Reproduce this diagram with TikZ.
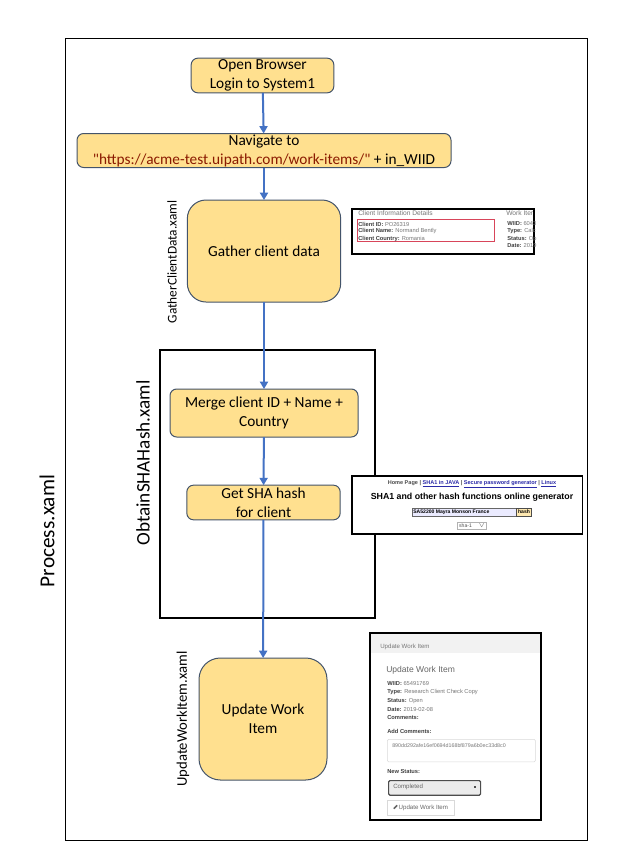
\documentclass[tikz,border=0pt]{standalone}
\usepackage{fontspec}
\setmainfont{Carlito}
\newfontfamily\shotfont{Liberation Sans}
\newfontfamily\urlfont{Carlito}
\usetikzlibrary{arrows.meta,positioning}
\definecolor{pxfill}{HTML}{FFE08F}
\definecolor{pxedge}{HTML}{44546A}
\definecolor{pxblue}{HTML}{4472C4}
\definecolor{pxurl}{HTML}{8B1A00}
\definecolor{pxred}{HTML}{D8455A}
\definecolor{pxgrey}{HTML}{777777}
\definecolor{pxlink}{HTML}{2A2AA8}
\tikzset{
  px step/.style={draw=pxedge, line width=0.75pt, fill=pxfill, align=center, inner sep=0pt,
    outer sep=0pt, font=\fontsize{11.5pt}{14.3pt}\selectfont, text=black},
  px arrow/.style={-{Triangle[length=5.5pt,width=6pt]}, line width=1.5pt, draw=pxblue},
  px frame/.style={draw=black, line width=0.8pt, fill=white, inner sep=0pt, outer sep=0pt, anchor=north west},
  px file/.style={rotate=90, inner sep=0pt, font=\fontsize{11pt}{13pt}\selectfont},
  px shot/.style={font=\shotfont\fontsize{4.3pt}{5.2pt}\selectfont, text=pxgrey, inner sep=0pt, anchor=west},
  px shotb/.style={px shot, text=black!75}
}
\begin{document}
\begin{tikzpicture}[x=0.75pt, y=-0.75pt]
  \useasboundingbox (0,0) rectangle (619,864);

  % frames
  \node[px frame, line width=0.75pt, minimum width=392pt, minimum height=601.5pt] (outer) at (65,38) {};
  \node[px frame, line width=1.5pt, minimum width=161pt, minimum height=201pt] (inner) at (160,350) {};

  % steps
  \node[px step, rounded corners=5pt, minimum width=107pt, minimum height=26pt] (open) at (262.5,75.5) {Open Browser\\Login to System1};
  \node[px step, rounded corners=5pt, minimum width=280.5pt, minimum height=25.5pt] (nav) at (264,150.5) {Navigate to\\\textcolor{pxurl}{\urlfont"https://acme-test.uipath.com/work-items/"} + in\_WIID};
  \node[px step, rounded corners=14pt, minimum width=115pt, minimum height=76.5pt] (gather) at (264,251) {Gather client data};
  \node[px step, rounded corners=5pt, minimum width=141pt, minimum height=36pt] (merge) at (264,413) {Merge client ID + Name +\\Country};
  \node[px step, rounded corners=5pt, minimum width=115pt, minimum height=26pt] (hash) at (263.5,502.5) {Get SHA hash\\for client};
  \node[px step, rounded corners=16pt, minimum width=96pt, minimum height=91.5pt] (update) at (263,719) {Update Work\\Item};

  \draw[px arrow] (open) -- (nav);
  \draw[px arrow] (nav) -- (gather);
  \draw[px arrow] (gather) -- (merge);
  \draw[px arrow] (merge) -- (hash);
  \draw[px arrow] (hash) -- (update);

  % file names
  \node[px file, font=\fontsize{16pt}{18pt}\selectfont] (process) at (47,531) {Process.xaml};
  \node[px file, font=\fontsize{10pt}{12pt}\selectfont] (gatherfile) at (172,262) {GatherClientData.xaml};
  \node[px file, font=\fontsize{14.4pt}{16pt}\selectfont] (hashfile) at (143,463) {ObtainSHAHash.xaml};
  \node[px file] (updatefile) at (183,719) {UpdateWorkItem.xaml};

  % client screenshot
  \node[px frame, minimum width=136.5pt, minimum height=33.75pt] (shotA) at (352,209) {};
  \node[px shot, font=\shotfont\fontsize{5pt}{6pt}\selectfont] (clienthead) at (358,213) {Client Information Details};
  \node[px shot, font=\shotfont\fontsize{5pt}{6pt}\selectfont] (workhead) at (506,213) {Work Iter};
  \node[draw=pxred, line width=0.75pt, minimum width=103pt, minimum height=17pt, inner sep=0pt, outer sep=0pt, anchor=north west] (redbox) at (357,219) {};
  \node[px shot] (cid) at (358,224) {\textcolor{black!75}{\textbf{Client ID:}} PO26319};
  \node[px shot] (cname) at (358,231.5) {\textcolor{black!75}{\textbf{Client Name:}} Normand Bently};
  \node[px shot] (ccountry) at (358,239) {\textcolor{black!75}{\textbf{Client Country:}} Romania};
  \node[px shot] (wiid) at (507,224) {\textcolor{black!75}{\textbf{WIID:}} 6043};
  \node[px shot] (wtype) at (507,231.5) {\textcolor{black!75}{\textbf{Type:}} Calc};
  \node[px shot] (wstatus) at (507,239) {\textcolor{black!75}{\textbf{Status:}} Op};
  \node[px shot] (wdate) at (507,246) {\textcolor{black!75}{\textbf{Date:}} 2019};

  % hash screenshot
  \node[px frame, minimum width=173pt, minimum height=43.5pt] (shotB) at (352,476) {};
  \node[font=\shotfont\bfseries\fontsize{4.15pt}{5pt}\selectfont, inner sep=0pt, text=black!70] (links) at (472,484.5) {Home Page | \textcolor{pxlink}{\underline{SHA1 in JAVA}} | \textcolor{pxlink}{\underline{Secure password generator}} | \textcolor{pxlink}{\underline{Linux}}};
  \node[font=\shotfont\bfseries\fontsize{6.6pt}{8pt}\selectfont, inner sep=0pt] (shatitle) at (472,497) {SHA1 and other hash functions online generator};
  \node[draw=black!60, fill=blue!8, line width=0.4pt, minimum width=78pt, minimum height=6pt, inner sep=0pt, outer sep=0pt, anchor=west, font=\shotfont\bfseries\fontsize{3.8pt}{4pt}\selectfont, text depth=0pt] (shainput) at (412,512) {\rlap{\hspace{-38pt}SA52200 Mayra Monson France}};
  \node[draw=black!70, fill=pxfill!70, line width=0.4pt, minimum width=11pt, minimum height=6pt, inner sep=0pt, outer sep=0pt, right=0.5pt of shainput, font=\shotfont\bfseries\fontsize{3.8pt}{4pt}\selectfont] (shabtn) {hash};
  \node[draw=black!30, line width=0.4pt, minimum width=22pt, minimum height=5.5pt, inner sep=0pt, font=\shotfont\fontsize{3.8pt}{4pt}\selectfont, text=black!70] (shaselect) at (472,526) {sha-1\hspace{5pt}$\scriptscriptstyle\vee$};

  % update screenshot
  \node[px frame, minimum width=128.25pt, minimum height=140.25pt] (shotC) at (370,633) {};
  \node[fill=black!5, minimum width=127pt, minimum height=14pt, inner sep=0pt, outer sep=0pt, anchor=north west] (shotCbar) at (371,634) {};
  \node[px shot, font=\shotfont\fontsize{4.6pt}{5pt}\selectfont] (barlabel) at (380,647) {Update Work Item};
  \node[px shot, font=\shotfont\fontsize{6.4pt}{7pt}\selectfont, text=black!60] (cardtitle) at (386,670) {Update Work Item};
  \node[px shot] (uwiid) at (387,684) {\textcolor{black!75}{\textbf{WIID:}} 65491769};
  \node[px shot] (utype) at (387,692.5) {\textcolor{black!75}{\textbf{Type:}} Research Client Check Copy};
  \node[px shot] (ustatus) at (387,701) {\textcolor{black!75}{\textbf{Status:}} Open};
  \node[px shot] (udate) at (387,709.5) {\textcolor{black!75}{\textbf{Date:}} 2019-02-08};
  \node[px shotb, font=\shotfont\bfseries\fontsize{4.3pt}{5pt}\selectfont] (ucomments) at (387,718) {Comments:};
  \node[px shotb, font=\shotfont\bfseries\fontsize{4.3pt}{5pt}\selectfont] (uadd) at (387,731) {Add Comments:};
  \node[draw=black!15, rounded corners=1pt, line width=0.4pt, minimum width=111pt, minimum height=17pt, inner sep=0pt, anchor=north west] (ubox) at (387,739) {};
  \node[px shot, font=\shotfont\fontsize{4pt}{5pt}\selectfont] (uhash) at (392,746) {890dd292afe16ef0694d168bf879a6b0ec33d8c0};
  \node[px shotb, font=\shotfont\bfseries\fontsize{4.3pt}{5pt}\selectfont] (unew) at (387,772) {New Status:};
  \node[draw=black!70, fill=black!8, rounded corners=1pt, line width=0.9pt, minimum width=69pt, minimum height=11pt, inner sep=0pt, anchor=north west] (uselect) at (388,780) {};
  \node[px shot, font=\shotfont\fontsize{4.6pt}{5pt}\selectfont, text=black!60] (ucompleted) at (393,786.5) {Completed};
  \node[fill=black!70, inner sep=0.6pt] (uarrow) at (475,787) {};
  \node[draw=black!15, line width=0.4pt, minimum width=50pt, minimum height=11pt, inner sep=0pt, anchor=north west, font=\shotfont\fontsize{4.6pt}{5pt}\selectfont, text=black!60] (ubtn) at (387,800) {\rotatebox{45}{\rule{3.5pt}{1.2pt}}\,Update Work Item};
\end{tikzpicture}
\end{document}
